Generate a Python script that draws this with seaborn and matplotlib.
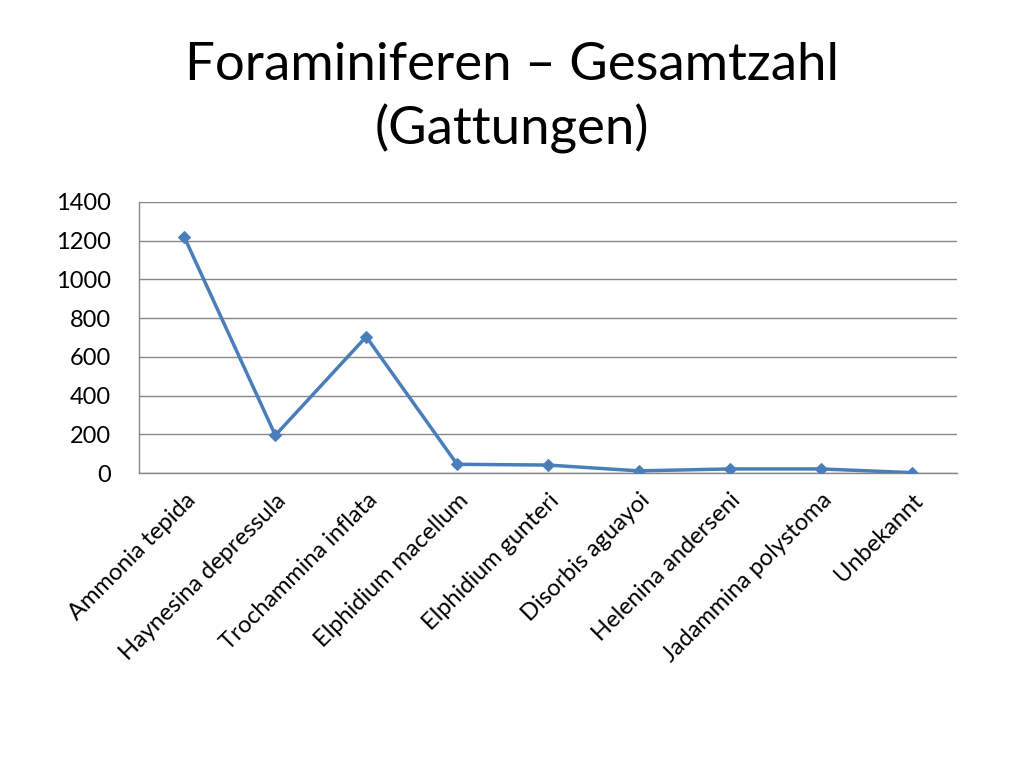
import matplotlib
matplotlib.use('Agg')
import matplotlib.pyplot as plt
import matplotlib.ticker as ticker
import numpy as np
import pandas as pd
import seaborn as sb

# Values
species = ['Ammonia tepida', 'Haynesina depressula', 'Trochammina inflata',
           'Elphidium macellum', 'Elphidium gunteri', 'Disorbis aguayoi',
           'Helenina anderseni', 'Jadammina polystoma', 'Unbekannt']
counts = [1217, 195, 704, 45, 41, 11, 21, 21, 2]
y_ticks = [0, 200, 400, 600, 800, 1000, 1200, 1400]

title = 'Foraminiferen – Gesamtzahl\n(Gattungen)'
line_color = '#4a7ebb'
grid_color = '#868686'

sb.set_style('white')
plt.rcParams['font.family'] = ['Lato', 'DejaVu Sans']
plt.rcParams['text.color'] = 'black'
plt.rcParams['xtick.labelcolor'] = 'black'
plt.rcParams['ytick.labelcolor'] = 'black'

data = pd.DataFrame({'pos': np.arange(len(species)), 'count': counts})

figure = plt.figure(figsize=(10.24, 7.68), dpi=100)
axis = figure.add_axes([139 / 1024, 1 - 473 / 768, (957 - 139) / 1024, (473 - 202) / 768])

sb.lineplot(data=data, x='pos', y='count', ax=axis, color=line_color, linewidth=2.5,
            marker='D', markersize=6, markeredgecolor=line_color, zorder=3)

# Excel-like axes: category ticks between points, gridlines on y
axis.set_xlim(-0.5, len(species) - 0.5)
axis.set_ylim(y_ticks[0], y_ticks[-1])
axis.set_yticks(y_ticks)
axis.set_xticks(np.arange(len(species)))
axis.set_xticklabels(species, rotation=45, ha='right', va='top', rotation_mode='anchor', fontsize=17)
axis.xaxis.set_minor_locator(ticker.FixedLocator(np.arange(-0.5, len(species), 1.0)))
axis.tick_params(axis='x', which='major', length=0, pad=12)
axis.tick_params(axis='x', which='minor', length=6, color=grid_color, width=1, direction='out')
axis.tick_params(axis='y', length=5, color=grid_color, width=1, direction='out', labelsize=17, pad=15)
axis.yaxis.grid(True, color=grid_color, linewidth=1)
axis.xaxis.grid(False)
axis.set_axisbelow(True)

sb.despine(ax=axis, top=True, right=True)
for side in ['left', 'bottom']:
    axis.spines[side].set_color(grid_color)
    axis.spines[side].set_linewidth(1)

axis.set_xlabel('')
axis.set_ylabel('')

figure.text(0.5, 1 - 98 / 768, title, ha='center', va='center', fontsize=38, linespacing=1.35)

plt.savefig('out.png', dpi=100)
plt.close()
